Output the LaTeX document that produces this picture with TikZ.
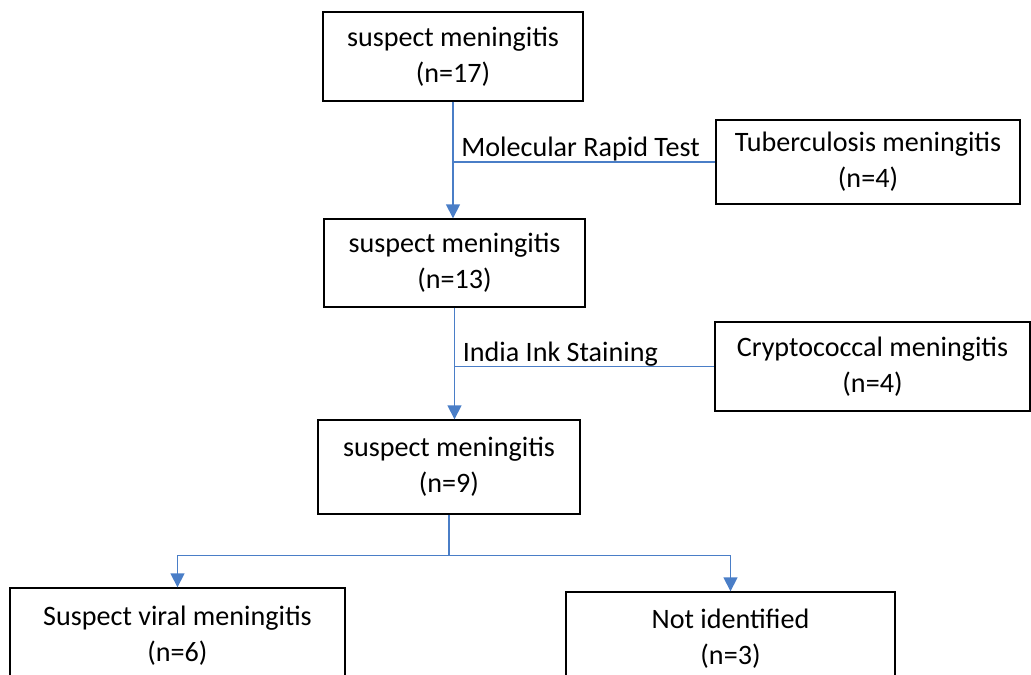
\documentclass[tikz,border=0pt]{standalone}
\usepackage{fontspec}
\setmainfont{Carlito}
\usepackage{tikz}
\usetikzlibrary{positioning,arrows.meta}
\definecolor{lineblue}{HTML}{4A7EC7}

\begin{document}
\begin{tikzpicture}[
x=0.02cm, y=-0.02cm,
box/.style={draw=black, line width=0.8pt, align=center, inner sep=0pt, font=\fontsize{16}{20.5}\selectfont},
link/.style={lineblue, line width=0.9pt},
arrow/.style={link, -{Triangle[length=2.8mm, width=2.8mm]}},
lbl/.style={anchor=base west, inner sep=0pt, xshift=0.16cm, yshift=0.1cm, font=\fontsize{16}{20.5}\selectfont}
]
\clip (0,0) rectangle (1031,675);
% main column
\node[box, minimum width=5.2cm, minimum height=1.78cm] (s17) at (453,56.5) {suspect meningitis\\(n=17)};
\node[box, minimum width=5.22cm, minimum height=1.76cm] (s13) at (454.5,263) {suspect meningitis\\(n=13)};
\node[box, minimum width=5.24cm, minimum height=1.88cm] (s9) at (449,467) {suspect meningitis\\(n=9)};
% side results
\node[box, minimum width=6.08cm, minimum height=1.68cm] (tb) at (868,162) {Tuberculosis meningitis\\(n=4)};
\node[box, minimum width=6.3cm, minimum height=1.78cm] (crypto) at (872.5,366.5) {Cryptococcal meningitis\\(n=4)};
% outcomes
\node[box, minimum width=6.7cm, minimum height=1.92cm] (viral) at (177.5,636) {Suspect viral meningitis\\(n=6)};
\node[box, minimum width=6.58cm, minimum height=1.88cm] (notid) at (730.5,639) {Not identified\\(n=3)};

\coordinate (j1) at (s17.south |- tb.west);
\coordinate (j2) at (s13.south |- crypto.west);
\coordinate (split) at ([yshift=-0.82cm]s9.south);

\draw[arrow] (s17.south) -- (s17.south |- s13.north);
\draw[link] (j1) -- (tb.west);
\node[lbl] (t1) at (j1) {Molecular Rapid Test};

\draw[arrow] (s13.south) -- (s13.south |- s9.north);
\draw[link] (j2) -- (crypto.west);
\node[lbl] (t2) at (j2) {India Ink Staining};

\draw[link] (s9.south) -- (split);
\draw[arrow] (split) -| (viral.north);
\draw[arrow] (split) -| (notid.north);
\end{tikzpicture}
\end{document}
